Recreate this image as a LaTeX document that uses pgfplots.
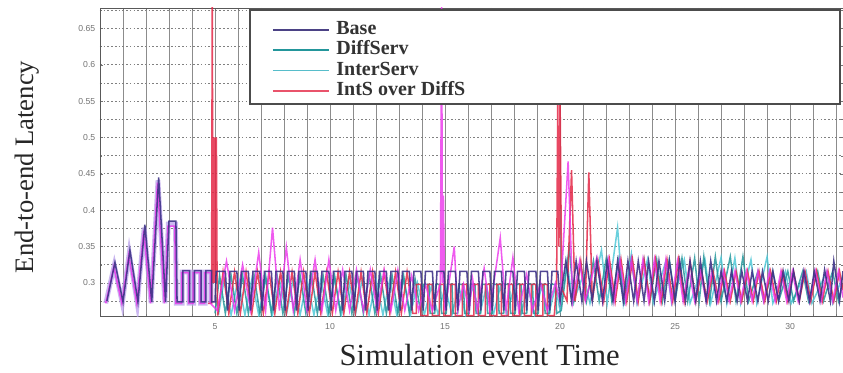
\documentclass[border=0pt]{standalone}
\usepackage{fontspec}
\setmainfont{Liberation Serif}
\setsansfont{Liberation Sans}
\usepackage{pgfplots}
\pgfplotsset{compat=1.18}
\definecolor{cBase}{RGB}{62,50,135}
\definecolor{cDiff}{RGB}{35,150,155}
\definecolor{cInter}{RGB}{80,200,215}
\definecolor{cInts}{RGB}{228,40,70}
\definecolor{cMag}{RGB}{235,50,235}
\definecolor{cLav}{RGB}{185,160,235}
\begin{document}
\begin{tikzpicture}
\path[use as bounding box] (-75pt,-42pt) rectangle (557.25pt,237pt);
\begin{axis}[
  at={(0,0)}, anchor=south west,
  width=557.25pt, height=231pt, scale only axis,
  xmin=0, xmax=32.3, ymin=0.2545, ymax=0.678,
  xtick={5,10,15,20,25,30},
  minor xtick={1,2,3,4,6,7,8,9,11,12,13,14,16,17,18,19,21,22,23,24,26,27,28,29,31,32},
  ytick={0.3,0.35,0.4,0.45,0.5,0.55,0.6,0.65},
  yticklabels={0.3,0.35,0.4,0.45,0.5,0.55,0.6,0.65},
  minor ytick={0.275,0.325,0.375,0.425,0.475,0.525,0.575,0.625,0.675},
  grid=both,
  x grid style={black!45, line width=0.5pt},
  y grid style={black!50, line width=0.5pt, dash pattern=on 1.2pt off 1.6pt},
  axis line style={black!65, line width=0.6pt},
  tick style={black!55},
  major tick length=2.5pt, minor tick length=1.5pt,
  /pgf/number format/assume math mode=true,
  tick label style={font=\sffamily\fontsize{6.5}{7}\selectfont, text=black!55},
  xticklabel style={yshift=-2pt},
  xlabel={Simulation event Time},
  ylabel={End-to-end Latency},
  every axis x label/.style={at={(axis description cs:0.511,0)}, anchor=center, yshift=-29pt, font=\fontsize{23}{26}\selectfont, text=black!85},
  every axis y label/.style={at={(axis description cs:0,0.484)}, anchor=center, xshift=-55pt, rotate=90, font=\fontsize{20}{22}\selectfont, text=black!85},
  legend style={at={(rel axis cs:0.2315,0.9614)}, anchor=north west, draw=none, fill=none, inner sep=0pt, outer sep=0pt,
    nodes={inner sep=0pt, text height=11pt, text depth=4.2pt, font=\bfseries\fontsize{15}{15}\selectfont, text=black!80},
    column sep=5pt, row sep=0pt},
  legend cell align=left,
  legend image code/.code={\draw[#1, line width=1.3pt] (0pt,0pt) -- (42pt,0pt);},
  every axis plot/.append style={line width=1.15pt, no markers},
]
% lavender body in the first region
\addplot[cLav, line width=3.6pt, opacity=0.75, forget plot] coordinates {
(0.25,0.272) (0.62,0.324) (0.97,0.272) (1.27,0.341) (1.62,0.272) (1.92,0.376) (2.22,0.272) (2.52,0.441) (2.82,0.272)
(2.97,0.381) (3.28,0.381) (3.32,0.272) (3.57,0.272) (3.57,0.315) (3.87,0.315) (3.87,0.272) (4.07,0.272) (4.07,0.315)
(4.37,0.315) (4.37,0.272) (4.57,0.272) (4.57,0.315) (4.82,0.315) (4.82,0.272)
};
% InterServ
\addplot[cInter, opacity=0.85, forget plot] coordinates {
(5.15,0.256) (5.40,0.305) (5.70,0.256) (6.00,0.305) (6.30,0.256) (6.60,0.305) (6.90,0.256) (7.20,0.305) (7.50,0.256)
(7.80,0.305) (8.10,0.256) (8.40,0.305) (8.70,0.256) (9.00,0.305) (9.30,0.256) (9.60,0.305) (9.90,0.256) (10.20,0.305)
(10.50,0.256) (10.80,0.305) (11.10,0.256) (11.40,0.305) (11.70,0.256) (12.00,0.305) (12.30,0.256) (12.60,0.305)
(12.90,0.256) (13.20,0.305) (13.50,0.256) (13.80,0.300) (14.10,0.256) (14.40,0.295) (14.70,0.256) (15.00,0.295)
(15.30,0.256) (15.60,0.295) (15.90,0.256) (16.20,0.295) (16.50,0.256) (16.80,0.295) (17.10,0.256) (17.40,0.295)
(17.70,0.256) (18.00,0.295) (18.30,0.256) (18.60,0.295) (18.90,0.256) (19.20,0.295) (19.50,0.256) (19.80,0.295)
(20.00,0.262) (20.30,0.330) (20.55,0.272) (21.00,0.310) (21.30,0.272) (21.80,0.345) (22.05,0.272) (22.50,0.376)
(22.75,0.272) (23.10,0.340) (23.35,0.272) (23.80,0.332) (24.05,0.272) (24.60,0.330) (24.85,0.272) (25.40,0.332)
(25.65,0.272) (26.30,0.332) (26.55,0.272) (27.00,0.335) (27.25,0.272) (27.60,0.334) (27.85,0.272) (28.30,0.332)
(28.55,0.272) (29.00,0.336) (29.25,0.272) (29.80,0.316) (30.05,0.272) (30.70,0.316) (30.95,0.272) (31.60,0.316)
(31.85,0.272) (32.30,0.310)
};
% DiffServ
\addplot[cDiff, opacity=0.85, forget plot] coordinates {
(5.00,0.258) (5.20,0.310) (5.45,0.258) (5.70,0.310) (5.95,0.258) (6.20,0.310) (6.45,0.258) (6.70,0.310) (6.95,0.258)
(7.20,0.310) (7.45,0.258) (7.70,0.310) (7.95,0.258) (8.20,0.310) (8.45,0.258) (8.70,0.310) (8.95,0.258) (9.20,0.310)
(9.45,0.258) (9.70,0.310) (9.95,0.258) (10.20,0.310) (10.45,0.258) (10.70,0.310) (10.95,0.258) (11.20,0.310)
(11.45,0.258) (11.70,0.310) (11.95,0.258) (12.20,0.310) (12.45,0.258) (12.70,0.310) (12.95,0.258) (13.20,0.310)
(13.45,0.258) (13.70,0.305) (13.95,0.258) (14.05,0.298) (14.30,0.298) (14.35,0.258) (14.55,0.258) (14.60,0.298)
(14.80,0.298) (14.85,0.258) (15.05,0.258) (15.10,0.298) (15.30,0.298) (15.35,0.258) (15.55,0.258) (15.60,0.298)
(15.80,0.298) (15.85,0.258) (16.05,0.258) (16.10,0.298) (16.30,0.298) (16.35,0.258) (16.55,0.258) (16.60,0.298)
(16.80,0.298) (16.85,0.258) (17.05,0.258) (17.10,0.298) (17.30,0.298) (17.35,0.258) (17.55,0.258) (17.60,0.298)
(17.80,0.298) (17.85,0.258) (18.05,0.258) (18.10,0.298) (18.30,0.298) (18.35,0.258) (18.55,0.258) (18.60,0.298)
(18.80,0.298) (18.85,0.258) (19.05,0.258) (19.10,0.298) (19.30,0.298) (19.35,0.258) (19.55,0.258) (19.60,0.298)
(19.80,0.298) (19.85,0.258) (20.05,0.262) (20.40,0.348) (20.60,0.275) (20.90,0.325) (21.15,0.275) (21.45,0.330)
(21.70,0.275) (22.00,0.332) (22.25,0.275) (22.55,0.332) (22.80,0.275) (23.10,0.332) (23.35,0.275) (23.65,0.332)
(23.90,0.275) (24.20,0.332) (24.45,0.275) (24.75,0.332) (25.00,0.275) (25.30,0.334) (25.55,0.275) (25.85,0.334)
(26.05,0.275) (26.25,0.336) (26.50,0.275) (26.75,0.336) (27.00,0.275) (27.40,0.336) (27.65,0.275) (27.95,0.336)
(28.20,0.275) (28.60,0.316) (28.85,0.275) (29.25,0.316) (29.50,0.275) (29.90,0.316) (30.15,0.275) (30.55,0.316)
(30.80,0.275) (31.20,0.316) (31.45,0.275) (31.85,0.316) (32.10,0.275) (32.30,0.300)
};
% IntS over DiffS
\addplot[cInts, opacity=0.85, forget plot] coordinates {
(4.70,0.272) (4.85,0.272) (4.88,0.700) (4.91,0.300) (4.94,0.500) (4.97,0.300) (5.00,0.500) (5.03,0.300) (5.06,0.500)
(5.09,0.300) (5.12,0.255) (5.35,0.315) (5.60,0.258)
(5.85,0.315) (6.10,0.258) (6.35,0.315) (6.60,0.258) (6.85,0.315) (7.10,0.258) (7.35,0.315) (7.60,0.258) (7.85,0.315)
(8.10,0.258) (8.35,0.315) (8.60,0.258) (8.85,0.315) (9.10,0.258) (9.35,0.315) (9.60,0.258) (9.85,0.315) (10.10,0.258)
(10.35,0.315) (10.60,0.258) (10.85,0.315) (11.10,0.258) (11.35,0.315) (11.60,0.258) (11.85,0.315) (12.10,0.258)
(12.35,0.315) (12.60,0.258) (12.85,0.315) (13.10,0.258) (13.35,0.315) (13.60,0.258) (13.75,0.258) (13.75,0.298)
(13.95,0.298) (13.95,0.255) (14.25,0.255) (14.25,0.298) (14.45,0.298) (14.45,0.255) (14.75,0.255) (14.75,0.298)
(14.95,0.298) (14.95,0.255) (15.25,0.255) (15.25,0.298) (15.45,0.298) (15.45,0.255) (15.75,0.255) (15.75,0.298)
(15.95,0.298) (15.95,0.255) (16.25,0.255) (16.25,0.298) (16.45,0.298) (16.45,0.255) (16.75,0.255) (16.75,0.298)
(16.95,0.298) (16.95,0.255) (17.25,0.255) (17.25,0.298) (17.45,0.298) (17.45,0.255) (17.75,0.255) (17.75,0.298)
(17.95,0.298) (17.95,0.255) (18.25,0.255) (18.25,0.298) (18.45,0.298) (18.45,0.255) (18.75,0.255) (18.75,0.298)
(18.95,0.298) (18.95,0.255) (19.25,0.255) (19.25,0.298) (19.45,0.298) (19.45,0.255) (19.75,0.255) (19.85,0.300)
(19.90,0.555) (19.95,0.350) (20.00,0.555) (20.05,0.370) (20.10,0.290) (20.30,0.275) (20.50,0.455) (20.65,0.275)
(20.90,0.330) (21.10,0.275) (21.25,0.452) (21.40,0.275) (21.65,0.330) (21.90,0.275) (22.15,0.332) (22.40,0.275)
(22.65,0.332) (22.90,0.275) (23.15,0.332) (23.40,0.275) (23.65,0.332) (23.90,0.275) (24.15,0.332) (24.40,0.275)
(24.65,0.332) (24.90,0.275) (25.15,0.332) (25.40,0.275) (25.65,0.330) (25.90,0.275) (26.15,0.316) (26.40,0.275)
(26.65,0.316) (26.90,0.275) (27.15,0.316) (27.40,0.275) (27.65,0.316) (27.90,0.275) (28.15,0.316) (28.40,0.275)
(28.65,0.316) (28.90,0.275) (29.15,0.316) (29.40,0.275) (29.65,0.316) (29.90,0.275) (30.15,0.316) (30.40,0.275)
(30.65,0.316) (30.90,0.275) (31.15,0.316) (31.40,0.275) (31.65,0.316) (31.90,0.275) (32.15,0.316) (32.30,0.290)
};
% magenta traces
\addplot[cMag, opacity=0.8, forget plot] coordinates {
(0.25,0.272) (0.60,0.322) (0.95,0.272) (1.25,0.338) (1.60,0.272) (1.90,0.372) (2.20,0.272) (2.50,0.438) (2.80,0.272)
(2.95,0.378) (3.25,0.378) (3.30,0.272) (3.55,0.272) (3.55,0.314) (3.85,0.314) (3.85,0.272) (4.05,0.272) (4.05,0.314)
(4.35,0.314) (4.35,0.272) (4.55,0.272) (4.55,0.314) (4.80,0.314) (4.80,0.272)
(5.10,0.262) (5.50,0.330) (5.85,0.262) (6.20,0.325) (6.55,0.262) (6.90,0.342) (7.20,0.262) (7.50,0.376) (7.80,0.262)
(8.10,0.349) (8.40,0.262) (8.70,0.332) (9.00,0.262) (9.35,0.332) (9.65,0.262) (9.95,0.332) (10.25,0.262) (10.55,0.318)
(10.85,0.262) (11.15,0.318) (11.45,0.262) (11.75,0.318) (12.05,0.262) (12.35,0.318) (12.65,0.262) (12.95,0.318)
(13.25,0.262) (13.55,0.310) (13.85,0.262) (14.15,0.298) (14.45,0.262) (14.80,0.300) (14.85,0.700) (14.89,0.300)
(14.93,0.420) (14.97,0.300) (15.00,0.262) (15.40,0.350) (15.55,0.262) (15.80,0.298) (16.05,0.262) (16.20,0.305) (16.40,0.262)
(16.70,0.320) (16.95,0.262) (17.40,0.362) (17.65,0.262) (17.95,0.335) (18.20,0.262) (18.55,0.312) (18.80,0.262)
(19.15,0.300) (19.45,0.262) (19.80,0.300) (20.00,0.275) (20.35,0.467) (20.55,0.275) (20.85,0.330) (21.10,0.275)
(21.60,0.335) (21.85,0.275) (22.10,0.332) (22.35,0.275) (22.60,0.332) (22.85,0.275) (23.10,0.332) (23.35,0.275)
(23.60,0.332) (23.85,0.275) (24.10,0.332) (24.35,0.275) (24.60,0.332) (24.85,0.275) (25.10,0.330) (25.35,0.275)
(25.60,0.318) (25.85,0.275) (26.10,0.316) (26.35,0.275) (26.60,0.316) (26.85,0.275) (27.10,0.316) (27.35,0.275)
(27.60,0.316) (27.85,0.275) (28.10,0.316) (28.35,0.275) (28.60,0.316) (28.85,0.275) (29.10,0.316) (29.35,0.275)
(29.60,0.316) (29.85,0.275) (30.10,0.316) (30.35,0.275) (30.60,0.316) (30.85,0.275) (31.10,0.316) (31.35,0.275)
(31.60,0.316) (31.85,0.275) (32.10,0.316) (32.30,0.280)
};
% Base
\addplot[cBase, opacity=0.9, forget plot] coordinates {
(0.30,0.275) (0.65,0.328) (1.00,0.274) (1.30,0.345) (1.65,0.274) (1.95,0.380) (2.25,0.274) (2.55,0.445) (2.85,0.274)
(3.00,0.385) (3.30,0.385) (3.35,0.274) (3.60,0.274) (3.60,0.317) (3.90,0.317) (3.90,0.274) (4.10,0.274) (4.10,0.317)
(4.40,0.317) (4.40,0.274) (4.60,0.274) (4.60,0.317) (4.85,0.317) (4.85,0.274) (5.00,0.274) (5.05,0.316)
(5.45,0.316) (5.55,0.262) (5.65,0.316) (5.95,0.316) (6.05,0.262) (6.15,0.316) (6.45,0.316) (6.55,0.262) (6.65,0.316)
(6.95,0.316) (7.05,0.262) (7.15,0.316) (7.45,0.316) (7.55,0.262) (7.65,0.316) (7.95,0.316) (8.05,0.262) (8.15,0.316)
(8.45,0.316) (8.55,0.262) (8.65,0.316) (8.95,0.316) (9.05,0.262) (9.15,0.316) (9.45,0.316) (9.55,0.262) (9.65,0.316)
(9.95,0.316) (10.05,0.262) (10.15,0.316) (10.45,0.316) (10.55,0.262) (10.65,0.316) (10.95,0.316) (11.05,0.262)
(11.15,0.316) (11.45,0.316) (11.55,0.262) (11.65,0.316) (11.95,0.316) (12.05,0.262) (12.15,0.316) (12.45,0.316)
(12.55,0.262) (12.65,0.316) (12.95,0.316) (13.05,0.262) (13.15,0.316) (13.45,0.316) (13.55,0.262) (13.65,0.316)
(13.95,0.316) (14.05,0.262) (14.15,0.316) (14.45,0.316) (14.55,0.262) (14.65,0.316) (14.95,0.316) (15.05,0.262)
(15.15,0.316) (15.45,0.316) (15.55,0.262) (15.65,0.316) (15.95,0.316) (16.05,0.262) (16.15,0.316) (16.45,0.316)
(16.55,0.262) (16.65,0.316) (16.95,0.316) (17.05,0.262) (17.15,0.316) (17.45,0.316) (17.55,0.262) (17.65,0.316)
(17.95,0.316) (18.05,0.262) (18.15,0.316) (18.45,0.316) (18.55,0.262) (18.65,0.316) (18.95,0.316) (19.05,0.262)
(19.15,0.316) (19.45,0.316) (19.55,0.262) (19.65,0.316) (19.90,0.316) (20.00,0.275) (20.25,0.330) (20.50,0.275)
(20.70,0.330) (20.95,0.275) (21.15,0.330) (21.40,0.275) (21.60,0.330) (21.85,0.275) (22.05,0.330) (22.30,0.275)
(22.50,0.330) (22.75,0.275) (22.95,0.330) (23.20,0.275) (23.40,0.330) (23.65,0.275) (23.85,0.330) (24.10,0.275)
(24.30,0.330) (24.55,0.275) (24.75,0.330) (25.00,0.275) (25.20,0.330) (25.45,0.275) (25.65,0.330) (25.90,0.275)
(26.10,0.330) (26.35,0.275) (26.55,0.330) (26.80,0.275) (27.00,0.316) (27.25,0.275) (27.45,0.316) (27.70,0.275)
(27.90,0.316) (28.15,0.275) (28.35,0.316) (28.60,0.275) (28.80,0.316) (29.05,0.275) (29.25,0.316) (29.50,0.275)
(29.70,0.316) (29.95,0.275) (30.15,0.316) (30.40,0.275) (30.60,0.316) (30.85,0.275) (31.05,0.316) (31.30,0.275)
(31.50,0.318) (31.75,0.275) (31.90,0.330) (32.15,0.275) (32.30,0.316)
};
% legend frame
\draw[fill=white, draw=black!70, line width=1.1pt] (rel axis cs:0.202,0.9935) rectangle (rel axis cs:0.996,0.688);
\addlegendimage{color=cBase!80!gray}
\addlegendentry{Base}
\addlegendimage{color=cDiff}
\addlegendentry{DiffServ}
\addlegendimage{color=cInter!85!gray}
\addlegendentry{InterServ}
\addlegendimage{color=cInts!80!white}
\addlegendentry{IntS over DiffS}
\end{axis}
\end{tikzpicture}
\end{document}
